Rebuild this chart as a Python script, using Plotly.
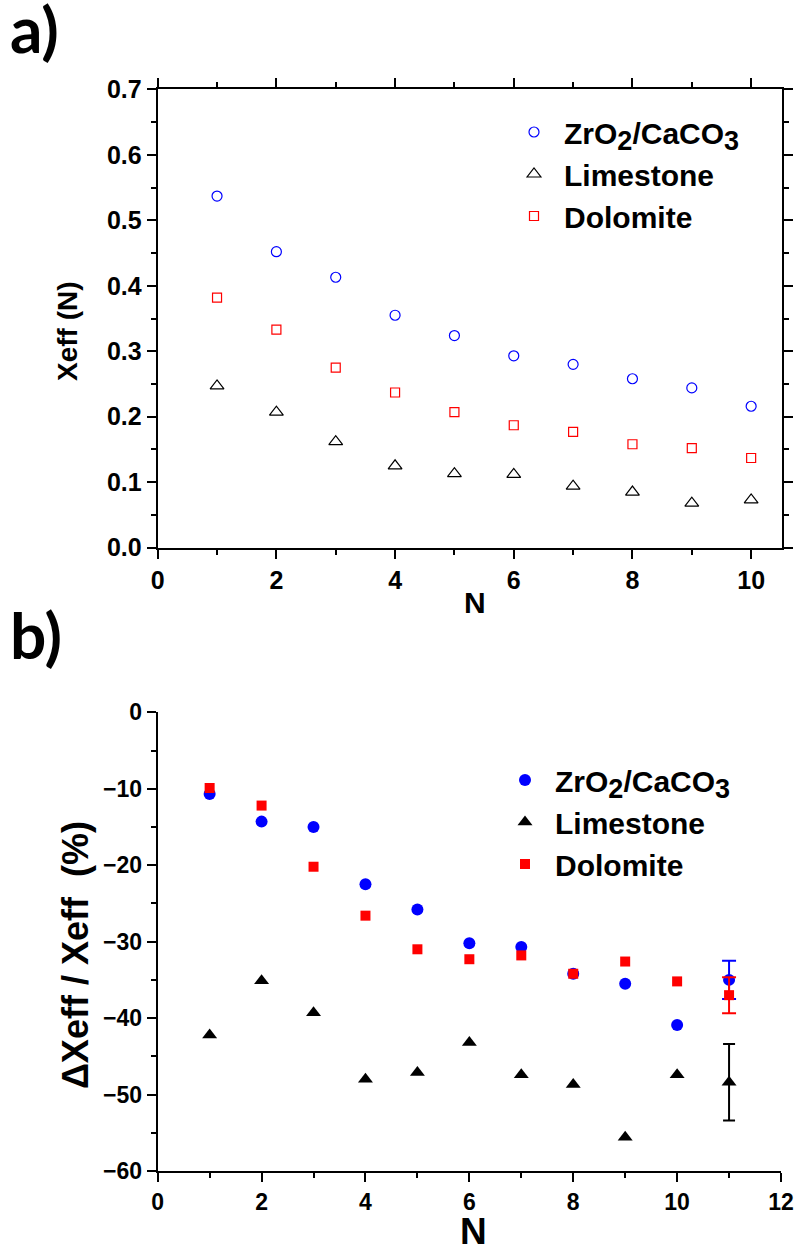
import plotly.graph_objects as go

# panel a: Xeff(N)
N_A = [1, 2, 3, 4, 5, 6, 7, 8, 9, 10]
ZRO2_A = [0.537, 0.452, 0.413, 0.355, 0.324, 0.293, 0.280, 0.258, 0.244, 0.216]
LIMESTONE_A = [0.247, 0.207, 0.162, 0.125, 0.113, 0.112, 0.094, 0.085, 0.068, 0.073]
DOLOMITE_A = [0.382, 0.333, 0.275, 0.237, 0.207, 0.187, 0.177, 0.158, 0.152, 0.137]

# panel b: relative change (%) per cycle
N_B = [1, 2, 3, 4, 5, 6, 7, 8, 9, 10]
ZRO2_B = [-10.7, -14.3, -15.0, -22.5, -25.8, -30.2, -30.7, -34.2, -35.5, -40.9]
LIMESTONE_B = [-42.2, -35.1, -39.3, -48.0, -47.1, -43.2, -47.4, -48.7, -55.6, -47.4]
DOLOMITE_B = [-9.9, -12.2, -20.2, -26.6, -31.0, -32.3, -31.8, -34.2, -32.6, -35.2]

# panel b: mean value drawn at N = 11 with its error bar
N_MEAN = [11]
ZRO2_MEAN = [-35.0]
LIMESTONE_MEAN = [-48.4]
DOLOMITE_MEAN = [-37.0]
ZRO2_SD = [2.5]
LIMESTONE_SD = [5.0]
DOLOMITE_SD = [2.35]

SUB = '<sub><span style="font-size:27px">{}</span></sub>'
NAMES = ['ZrO' + SUB.format(2) + '/CaCO' + SUB.format(3), 'Limestone', 'Dolomite']
BLUE, RED, BLACK = '#0000FF', '#FF0000', '#000000'
FONT = 'Liberation Sans, Arial, sans-serif'

W, H = 799, 1252

fig = go.Figure()

# panel a (open symbols)
fig.add_trace(go.Scatter(x=N_A, y=ZRO2_A, mode='markers', name=NAMES[0],
                         marker=dict(symbol='circle-open', size=10, color=BLUE, line=dict(width=1.2)),
                         xaxis='x', yaxis='y', legend='legend'))
fig.add_trace(go.Scatter(x=N_A, y=LIMESTONE_A, mode='markers', name=NAMES[1],
                         marker=dict(symbol='triangle-up-open', size=12, color=BLACK, line=dict(width=1.2)),
                         xaxis='x', yaxis='y', legend='legend'))
fig.add_trace(go.Scatter(x=N_A, y=DOLOMITE_A, mode='markers', name=NAMES[2],
                         marker=dict(symbol='square-open', size=9, color=RED, line=dict(width=1.2)),
                         xaxis='x', yaxis='y', legend='legend'))

# panel b (filled symbols)
series_b = [
    (ZRO2_B, ZRO2_MEAN, ZRO2_SD, NAMES[0], 'circle', 12, BLUE, 7),
    (LIMESTONE_B, LIMESTONE_MEAN, LIMESTONE_SD, NAMES[1], 'triangle-up', 13, BLACK, 6),
    (DOLOMITE_B, DOLOMITE_MEAN, DOLOMITE_SD, NAMES[2], 'square', 10, RED, 7),
]
for vals, mean, sd, name, sym, size, col, capw in series_b:
    fig.add_trace(go.Scatter(x=N_B, y=vals, mode='markers', name=name,
                             marker=dict(symbol=sym, size=size, color=col),
                             xaxis='x2', yaxis='y2', legend='legend2'))
    fig.add_trace(go.Scatter(x=N_MEAN, y=mean, mode='markers', name=name, showlegend=False,
                             marker=dict(symbol=sym, size=size, color=col),
                             error_y=dict(type='data', array=sd, visible=True, color=col,
                                          thickness=2, width=capw),
                             xaxis='x2', yaxis='y2'))

axis_common = dict(showline=True, linecolor='black', linewidth=2, ticks='outside',
                   ticklen=9, tickwidth=2, tickcolor='black', showgrid=False, zeroline=False,
                   automargin=False)

fig.update_layout(
    width=W, height=H,
    margin=dict(l=0, r=0, t=0, b=0),
    paper_bgcolor='white', plot_bgcolor='white',
    font=dict(family=FONT, color='black'),
    xaxis=dict(axis_common, domain=[157.7 / W, 782 / W], range=[0, 10.52], dtick=2, mirror='ticks',
               tickfont=dict(size=25, weight='bold'), anchor='y',
               minor=dict(dtick=1, ticklen=5, tickwidth=2, tickcolor='black', ticks='outside')),
    yaxis=dict(axis_common, domain=[1 - 547.7 / H, 1 - 89.3 / H], range=[0, 0.7], dtick=0.1,
               tickformat='.1f', mirror='ticks', tickfont=dict(size=25, weight='bold'), anchor='x',
               minor=dict(dtick=0.05, ticklen=5, tickwidth=2, tickcolor='black', ticks='outside')),
    xaxis2=dict(axis_common, domain=[157.7 / W, 781 / W], range=[0, 12], dtick=2,
                tickfont=dict(size=23, weight='bold'), anchor='y2',
                minor=dict(dtick=1, ticklen=5, tickwidth=2, tickcolor='black', ticks='outside')),
    yaxis2=dict(axis_common, domain=[1 - 1171 / H, 1 - 712.3 / H], range=[-60, 0], dtick=10,
                tickfont=dict(size=23, weight='bold'), anchor='x2',
                minor=dict(dtick=5, ticklen=5, tickwidth=2, tickcolor='black', ticks='outside')),
    legend=dict(x=504 / W, y=1 - 106 / H, xanchor='left', yanchor='top', itemwidth=50,
                font=dict(size=30, weight='bold'), bgcolor='rgba(0,0,0,0)', borderwidth=0,
                tracegroupgap=0),
    legend2=dict(x=495 / W, y=1 - 754 / H, xanchor='left', yanchor='top', itemwidth=50,
                 font=dict(size=30, weight='bold'), bgcolor='rgba(0,0,0,0)', borderwidth=0,
                 tracegroupgap=0),
)

# axis titles placed as annotations (centre positions in px)
titles = [
    ('<b>N</b>', 475, 602, 0, 30),
    ('<b>Xeff (N)</b>', 67, 331, -90, 28),
    ('<b>N</b>', 473, 1231, 0, 37),
    ('<b>\u0394Xeff / Xeff\u00a0 (%)</b>', 75, 955, -90, 36),
]
for txt, px, py, ang, sz in titles:
    fig.add_annotation(text=txt, x=px / W, y=1 - py / H, xref='paper', yref='paper',
                       xanchor='center', yanchor='middle', textangle=ang, showarrow=False,
                       font=dict(family=FONT, size=sz, color='black'))

# panel labels
fig.add_annotation(text='<b>a)</b>', x=8 / W, y=1 + 12 / H, xref='paper', yref='paper',
                   xanchor='left', yanchor='top', showarrow=False,
                   font=dict(family='Lato, sans-serif', size=64, color='black'))
fig.add_annotation(text='<b>b)</b>', x=8 / W, y=1 - 594 / H, xref='paper', yref='paper',
                   xanchor='left', yanchor='top', showarrow=False,
                   font=dict(family='Lato, sans-serif', size=64, color='black'))

fig.write_html('out.html', config={'displayModeBar': False},
               post_script="document.body.style.margin='0';")
